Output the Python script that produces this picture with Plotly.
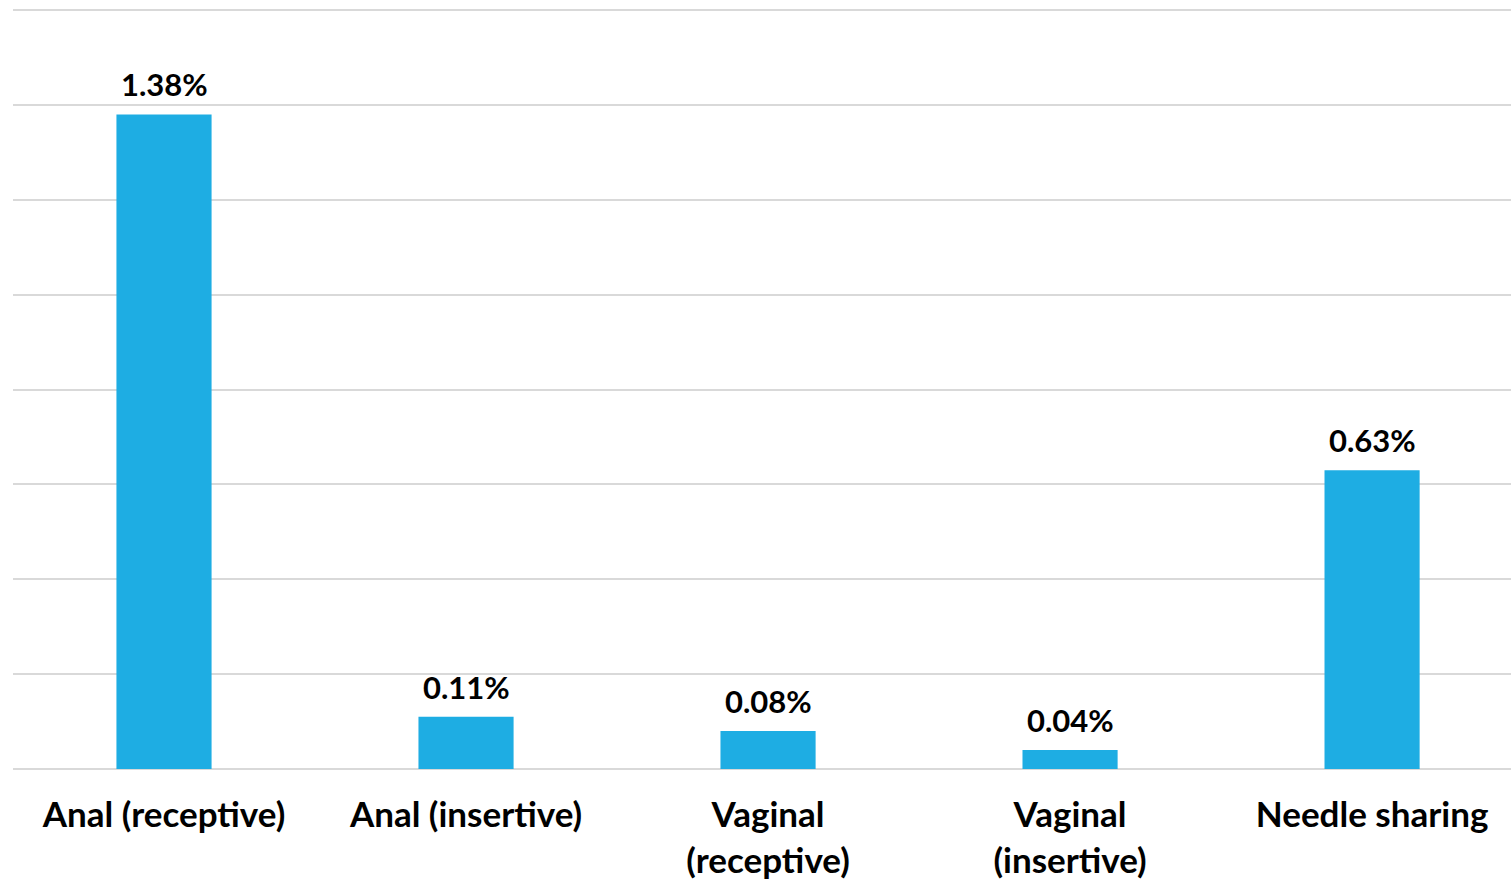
import plotly.graph_objects as go

# Per-act transmission risk
categories = [
    "Anal (receptive)",
    "Anal (insertive)",
    "Vaginal<br>(receptive)",
    "Vaginal<br>(insertive)",
    "Needle sharing",
]
risk_pct = [1.38, 0.11, 0.08, 0.04, 0.63]
labels = [f"{v:.2f}%" for v in risk_pct]

BLUE = "#1EADE3"
GRID = "#D9D9D9"
FONT = "Lato"

fig = go.Figure(
    go.Bar(
        x=categories,
        y=risk_pct,
        marker=dict(color=BLUE, line=dict(width=0)),
        width=0.315,
    )
)

# value labels above each bar
for cat, val, lab in zip(categories, risk_pct, labels):
    fig.add_annotation(
        x=cat,
        y=val,
        text=lab,
        showarrow=False,
        xanchor="center",
        yanchor="bottom",
        yshift=9,
        font=dict(family=FONT, size=31, color="#000000", weight="bold"),
    )

fig.update_layout(
    width=1511,
    height=883,
    margin=dict(l=13, r=0, t=8, b=114),
    paper_bgcolor="white",
    plot_bgcolor="white",
    showlegend=False,
    xaxis=dict(
        range=[-0.5, 4.46],
        automargin=False,
        showgrid=False,
        showline=False,
        ticks="",
        ticklabelstandoff=22,
        tickfont=dict(family=FONT, size=35, color="#000000", weight="bold"),
    ),
    yaxis=dict(
        range=[0, 1.6045],
        tick0=0,
        dtick=0.2,
        automargin=False,
        showticklabels=False,
        showgrid=True,
        gridcolor=GRID,
        gridwidth=2,
        zeroline=True,
        zerolinecolor=GRID,
        zerolinewidth=2,
        showline=False,
        ticks="",
    ),
)

fig.write_html("out.html")
